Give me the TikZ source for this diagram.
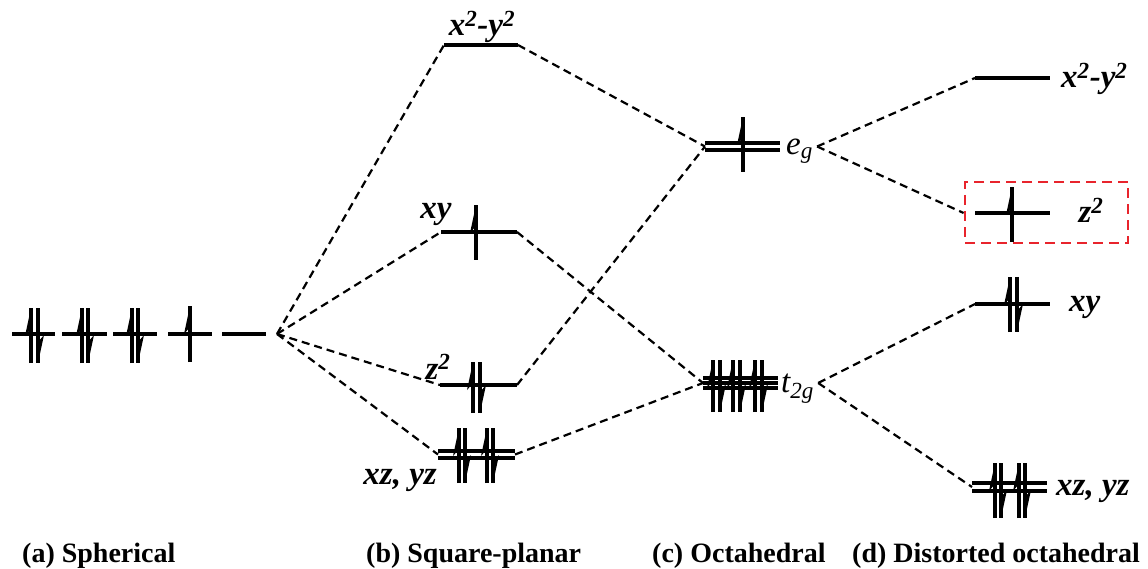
\documentclass[tikz,border=0pt]{standalone}
\usepackage{fontspec}
\setmainfont{Liberation Serif}
\usetikzlibrary{calc}
\definecolor{boxred}{RGB}{232,36,44}
\newcommand\spinUp[3]{\draw[spinl] (#1,#3) -- (#1,#2); \fill (#1,#2) -- (#1-6,#2+28) -- (#1,#2+21) -- cycle;}
\newcommand\spinDn[3]{\draw[spinl] (#1,#2) -- (#1,#3); \fill (#1,#3) -- (#1+6,#3-28) -- (#1,#3-21) -- cycle;}
\begin{document}
\begin{tikzpicture}[x=1pt,y=-1pt,
  lev/.style={inner sep=0pt, outer sep=0pt, minimum height=0pt, minimum width=#1},
  levline/.style={line width=3.6pt},
  conn/.style={line width=2.2pt, dash pattern=on 8pt off 5pt},
  spinl/.style={line width=3.2pt},
  orb/.style={inner sep=0pt, font=\fontsize{33}{38}\selectfont\bfseries\itshape},
  sym/.style={inner sep=0pt, font=\fontsize{33}{38}\selectfont\itshape},
  capt/.style={inner sep=0pt, anchor=base west, font=\fontsize{28}{34}\selectfont\bfseries},
  redbox/.style={draw=boxred, line width=2.8pt, dash pattern=on 10pt off 6pt, inner sep=0pt}]
\useasboundingbox (0,0) rectangle (1148,569);

% ---- (a) spherical ----
\node[lev=43] (s1) at (33.5,334) {};
\node[lev=45] (s2) at (84.5,334) {};
\node[lev=44] (s3) at (135,334) {};
\node[lev=44] (s4) at (190,334) {};
\node[lev=44] (s5) at (244,334) {};
\foreach \n in {s1,s2,s3,s4,s5} \draw[levline] (\n.west) -- (\n.east);
\coordinate (conv) at (277,334);
\spinUp{31}{308}{363}\spinDn{38}{308}{363}
\spinUp{82}{308}{363}\spinDn{88}{308}{363}
\spinUp{132}{308}{363}\spinDn{138}{308}{363}
\spinUp{190}{306}{362}

% ---- (b) square planar ----
\node[lev=74] (pA) at (481,45) {};
\node[lev=76] (pB) at (479,232) {};
\node[lev=77] (pC) at (478.5,385) {};
\node[lev=77, minimum height=7pt] (pD) at (476.5,454.5) {};
\draw[levline] (pA.west) -- (pA.east);
\draw[levline] (pB.west) -- (pB.east);
\draw[levline] (pC.west) -- (pC.east);
\draw[levline] (pD.north west) -- (pD.north east);
\draw[levline] (pD.south west) -- (pD.south east);
\spinUp{476}{205}{260}
\spinUp{473}{362}{413}\spinDn{480}{362}{413}
\spinUp{459}{428}{483}\spinDn{465}{428}{483}
\spinUp{487}{428}{483}\spinDn{493}{428}{483}
\node[orb, anchor=base] (pAl) at (482,36) {x\textsuperscript{2}-y\textsuperscript{2}};
\node[orb, anchor=base] (pBl) at (436,219) {xy};
\node[orb, anchor=base] (pCl) at (438,379) {z\textsuperscript{2}};
\node[orb, anchor=base east] (pDl) at (437,484) {xz, yz};

% ---- (c) octahedral ----
\node[lev=75, minimum height=7pt] (e) at (742.5,146.5) {};
\draw[levline] (e.north west) -- (e.north east);
\draw[levline] (e.south west) -- (e.south east);
\node[lev=75, minimum height=10pt] (t) at (740.5,383) {};
\draw[levline] (t.north west) -- (t.north east);
\draw[levline] (t.west) -- (t.east);
\draw[levline] (t.south west) -- (t.south east);
\spinUp{743}{117}{172}
\spinUp{713}{360}{412}\spinDn{720}{360}{412}
\spinUp{733}{360}{412}\spinDn{740}{360}{412}
\spinUp{755}{360}{412}\spinDn{762}{360}{412}
\node[sym, anchor=base west] (egl) at (786,155) {e\textsubscript{\itshape g}};
\node[sym, anchor=base west] (t2gl) at (781,392) {t\textsubscript{\itshape 2g}};

% ---- (d) distorted octahedral ----
\node[lev=75] (dA) at (1012.5,78) {};
\node[lev=75] (dB) at (1012.5,213) {};
\node[lev=75] (dC) at (1012.5,304) {};
\node[lev=75, minimum height=8pt] (dD) at (1009.5,487) {};
\draw[levline] (dA.west) -- (dA.east);
\draw[levline] (dB.west) -- (dB.east);
\draw[levline] (dC.west) -- (dC.east);
\draw[levline] (dD.north west) -- (dD.north east);
\draw[levline] (dD.south west) -- (dD.south east);
\spinUp{1012}{187}{242}
\spinUp{1010}{277}{332}\spinDn{1017}{277}{332}
\spinUp{995}{463}{518}\spinDn{1001}{463}{518}
\spinUp{1019}{463}{518}\spinDn{1025}{463}{518}
\node[orb, anchor=base west] (dAl) at (1061,88) {x\textsuperscript{2}-y\textsuperscript{2}};
\node[orb, anchor=base] (dBl) at (1091,223) {z\textsuperscript{2}};
\node[orb, anchor=base west] (dCl) at (1069,311) {xy};
\node[orb, anchor=base west] (dDl) at (1056,495) {xz, yz};
\node[redbox, minimum width=163pt, minimum height=61pt] (zbox) at (1046.5,212.5) {};

% ---- connectors ----
\draw[conn] (conv) -- (pA.west);
\draw[conn] (conv) -- (pB.west);
\draw[conn] (conv) -- (pC.west);
\draw[conn] (conv) -- (pD.west);
\draw[conn] (pA.east) -- (e.west);
\draw[conn] (pC.east) -- (e.west);
\draw[conn] (pB.east) -- (t.west);
\draw[conn] (pD.east) -- (t.west);
\coordinate (eR) at ($(egl.east |- e.center)+(4,0)$);
\coordinate (tR) at ($(t2gl.east |- t.center)+(4,0)$);
\draw[conn] (eR) -- (dA.west);
\draw[conn] (eR) -- (zbox.west |- dB.west);
\draw[conn] (tR) -- (dC.west);
\draw[conn] (tR) -- (dD.west);

% ---- captions ----
\node[capt] (ca) at (22,562) {(a) Spherical};
\node[capt] (cb) at (366,562) {(b) Square-planar};
\node[capt] (cc) at (652,562) {(c) Octahedral};
\node[capt] (cd) at (852,562) {(d) Distorted octahedral};
\end{tikzpicture}
\end{document}
